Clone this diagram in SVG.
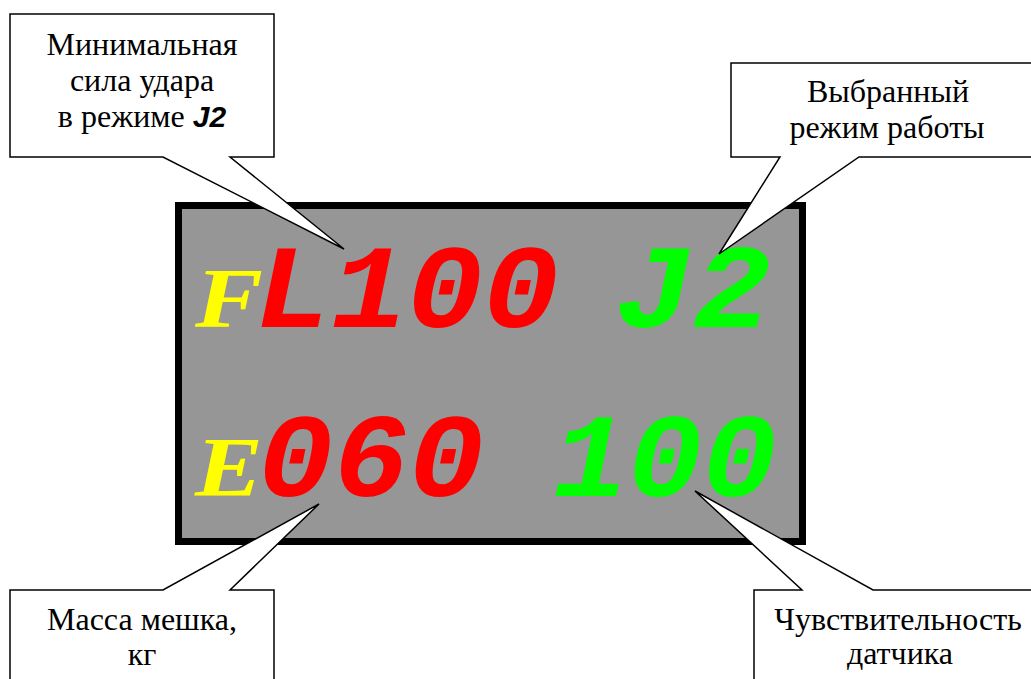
<svg xmlns="http://www.w3.org/2000/svg" width="1031" height="679" viewBox="0 0 1031 679">
<style>
.call{fill:#fff;stroke:#000;stroke-width:1.5;stroke-linejoin:miter}
.lbl{font-family:"Liberation Serif","Times New Roman",serif;font-size:32px;fill:#000;text-anchor:middle}
.j2{font-family:"Liberation Sans",Arial,sans-serif;font-weight:bold;font-style:italic;font-size:30px}
.dig{font-weight:bold;font-style:italic}
.mono{font-family:"Liberation Mono","Courier New",monospace}
.big{font-size:118px}
.sm{font-family:"Liberation Serif","Times New Roman",serif;font-size:84px;fill:#ffff00}
.r{fill:#ff0000}
.g{fill:#00ff00}
</style>
<rect width="1031" height="679" fill="#fff"/>
<g id="display">
<rect x="178.5" y="205.5" width="624" height="336" fill="#969696" stroke="#000" stroke-width="7"/>
<text class="dig sm" x="195" y="327" textLength="68" lengthAdjust="spacingAndGlyphs">F</text>
<text class="dig mono big r" x="255" y="327" textLength="304" lengthAdjust="spacingAndGlyphs">L100</text>
<text class="dig mono big g" x="615" y="327" textLength="156" lengthAdjust="spacingAndGlyphs">J2</text>
<text class="dig sm" x="195" y="496" textLength="68" lengthAdjust="spacingAndGlyphs">E</text>
<text class="dig mono big r" x="258" y="496" textLength="226" lengthAdjust="spacingAndGlyphs">060</text>
<text class="dig mono big g" x="553" y="496" textLength="224" lengthAdjust="spacingAndGlyphs">100</text>
</g>
<g id="connectors"></g>
<g id="callout-min">
<path class="call" d="M10,14 H274 V157 H230 L344,249 L163,157 H10 Z"/>
<text class="lbl" x="142" y="55">Минимальная</text>
<text class="lbl" x="142" y="91">сила удара</text>
<text class="lbl" x="142" y="127">в режиме <tspan class="j2">J2</tspan></text>
</g>
<g id="callout-mode">
<path class="call" d="M731,63 H1033 V157 H859 L719,254 L780,157 H731 Z"/>
<text class="lbl" x="888" y="102">Выбранный</text>
<text class="lbl" x="887" y="138">режим работы</text>
</g>
<g id="callout-mass">
<path class="call" d="M10,590 H163 L319,504 L230,590 H274 V683 H10 Z"/>
<text class="lbl" x="142" y="630">Масса мешка,</text>
<text class="lbl" x="142" y="665">кг</text>
</g>
<g id="callout-sens">
<path class="call" d="M754,590 H802 L695,491 L873,590 H1033 V683 H754 Z"/>
<text class="lbl" x="898" y="630">Чувствительность</text>
<text class="lbl" x="900" y="664">датчика</text>
</g>
</svg>
